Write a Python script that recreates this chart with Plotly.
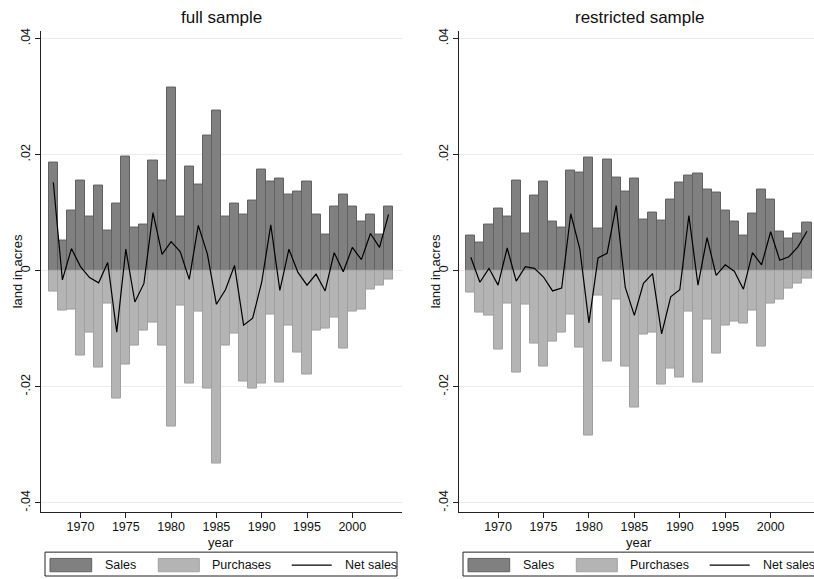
import plotly.graph_objects as go

# ---------------- data ----------------
years = list(range(1967, 2005))

full_sales = [0.0187, 0.0052, 0.0104, 0.0155, 0.0093, 0.0146, 0.0069, 0.0115, 0.0197, 0.0075,
              0.0080, 0.0189, 0.0156, 0.0316, 0.0093, 0.0180, 0.0148, 0.0232, 0.0276, 0.0093,
              0.0116, 0.0097, 0.0120, 0.0175, 0.0154, 0.0159, 0.0131, 0.0137, 0.0154, 0.0097,
              0.0063, 0.0110, 0.0131, 0.0110, 0.0085, 0.0097, 0.0063, 0.0110]
full_purchases = [-0.0036, -0.0069, -0.0067, -0.0147, -0.0106, -0.0167, -0.0056, -0.0220, -0.0161, -0.0129,
                  -0.0103, -0.0090, -0.0129, -0.0268, -0.0061, -0.0195, -0.0071, -0.0204, -0.0333, -0.0129,
                  -0.0108, -0.0191, -0.0203, -0.0194, -0.0076, -0.0193, -0.0095, -0.0141, -0.0179, -0.0103,
                  -0.0099, -0.0080, -0.0134, -0.0071, -0.0067, -0.0033, -0.0025, -0.0016]
full_net = [0.0152, -0.0016, 0.0038, 0.0007, -0.0012, -0.0021, 0.0014, -0.0106, 0.0037, -0.0054,
            -0.0022, 0.0100, 0.0028, 0.0050, 0.0033, -0.0015, 0.0078, 0.0029, -0.0058, -0.0033,
            0.0009, -0.0094, -0.0082, -0.0020, 0.0079, -0.0034, 0.0037, -0.0003, -0.0025, -0.0006,
            -0.0035, 0.0031, -0.0002, 0.0040, 0.0019, 0.0064, 0.0040, 0.0097]

restr_sales = [0.0060, 0.0049, 0.0080, 0.0107, 0.0094, 0.0155, 0.0064, 0.0129, 0.0154, 0.0084,
               0.0075, 0.0172, 0.0169, 0.0195, 0.0072, 0.0192, 0.0160, 0.0136, 0.0158, 0.0088,
               0.0100, 0.0087, 0.0123, 0.0151, 0.0164, 0.0168, 0.0140, 0.0134, 0.0104, 0.0085,
               0.0060, 0.0099, 0.0139, 0.0122, 0.0067, 0.0056, 0.0064, 0.0083]
restr_purchases = [-0.0038, -0.0072, -0.0077, -0.0136, -0.0056, -0.0176, -0.0059, -0.0126, -0.0165, -0.0122,
                   -0.0106, -0.0076, -0.0133, -0.0285, -0.0043, -0.0156, -0.0049, -0.0166, -0.0236, -0.0110,
                   -0.0106, -0.0196, -0.0169, -0.0185, -0.0070, -0.0193, -0.0085, -0.0143, -0.0095, -0.0087,
                   -0.0092, -0.0069, -0.0130, -0.0057, -0.0049, -0.0031, -0.0022, -0.0014]
restr_net = [0.0023, -0.0020, 0.0004, -0.0025, 0.0039, -0.0018, 0.0007, 0.0004, -0.0011, -0.0035,
             -0.0030, 0.0098, 0.0037, -0.0090, 0.0022, 0.0030, 0.0112, -0.0029, -0.0077, -0.0022,
             -0.0005, -0.0109, -0.0045, -0.0033, 0.0095, -0.0025, 0.0057, -0.0008, 0.0010, -0.0001,
             -0.0032, 0.0031, 0.0010, 0.0067, 0.0018, 0.0024, 0.0041, 0.0068]

panel_titles = ["full sample", "restricted sample"]
series_names = ["Sales", "Purchases", "Net sales"]
x_title = "year"
y_title = "land in acres"
ytick_vals = [-0.04, -0.02, 0, 0.02, 0.04]
ytick_text = ["-.04", "-.02", "0", ".02", ".04"]
xtick_vals = [1970, 1975, 1980, 1985, 1990, 1995, 2000]

# ---------------- style / layout ----------------
W, H = 814, 579
FONT = "Liberation Sans, Arial, Helvetica, sans-serif"
SALES_FILL, SALES_LINE = "#808080", "#606060"
PUR_FILL, PUR_LINE = "#b4b4b4", "#a0a0a0"
AXIS_COL = "#222222"
GRID_COL = "#ebebeb"
TXT = "#111111"

# panel pixel geometry
panels = [
    dict(x0=41.0, x1=401.7, xr=[1965.64, 2005.45]),
    dict(x0=459.0, x1=814.0, xr=[1965.70, 2004.77]),
]
py_top, py_bot = 27.7, 511.7
yrange = [-0.0416, 0.04137]


def px(x):
    return x / W


def py(y):
    return 1 - y / H


fig = go.Figure()

data_sets = [
    (full_sales, full_purchases, full_net),
    (restr_sales, restr_purchases, restr_net),
]

for i, (s, p, n) in enumerate(data_sets):
    xa = "x" if i == 0 else "x2"
    ya = "y" if i == 0 else "y2"
    fig.add_trace(go.Bar(x=years, y=s, width=1, name=series_names[0],
                         marker=dict(color=SALES_FILL, line=dict(color=SALES_LINE, width=1)),
                         xaxis=xa, yaxis=ya, showlegend=False))
    fig.add_trace(go.Bar(x=years, y=p, width=1, name=series_names[1],
                         marker=dict(color=PUR_FILL, line=dict(color=PUR_LINE, width=1)),
                         xaxis=xa, yaxis=ya, showlegend=False))
    fig.add_trace(go.Scatter(x=years, y=n, mode="lines", name=series_names[2],
                             line=dict(color="black", width=1.2),
                             xaxis=xa, yaxis=ya, showlegend=False))

axis_common = dict(showline=True, linecolor=AXIS_COL, linewidth=1, ticks="outside",
                   ticklen=5, tickcolor=AXIS_COL, tickwidth=1, zeroline=False,
                   tickfont=dict(family=FONT, size=12.5, color=TXT))

layout = dict(width=W, height=H, margin=dict(l=0, r=0, t=0, b=0),
              paper_bgcolor="white", plot_bgcolor="white",
              barmode="overlay", bargap=0, font=dict(family=FONT, color=TXT))

for i, pn in enumerate(panels):
    sx = "" if i == 0 else str(i + 1)
    layout["xaxis" + sx] = dict(
        domain=[px(pn["x0"]), px(pn["x1"])], range=pn["xr"], anchor="y" + sx,
        tickvals=xtick_vals, showgrid=False, ticklabelstandoff=-2, **axis_common)
    layout["yaxis" + sx] = dict(
        domain=[py(py_bot), py(py_top)], range=yrange, anchor="x" + sx,
        tickvals=ytick_vals, ticktext=ytick_text, tickangle=-90,
        showgrid=True, gridcolor=GRID_COL, gridwidth=1, **axis_common)

fig.update_layout(**layout)

annotations = []
shapes = []
for i, pn in enumerate(panels):
    full_w = 360.7
    cx = pn["x0"] + full_w / 2
    annotations.append(dict(text=panel_titles[i], x=px(cx), y=py(15), xref="paper", yref="paper",
                            showarrow=False, xanchor="center", yanchor="middle",
                            font=dict(family=FONT, size=17, color=TXT)))
    # axis titles
    annotations.append(dict(text=x_title, x=px(cx), y=py(542), xref="paper", yref="paper",
                            showarrow=False, xanchor="center", yanchor="middle", borderpad=0,
                            font=dict(family=FONT, size=13, color=TXT)))
    annotations.append(dict(text=y_title, x=px(pn["x0"] - 24), y=py((py_top + py_bot) / 2),
                            xref="paper", yref="paper", textangle=-90,
                            showarrow=False, xanchor="center", yanchor="middle",
                            font=dict(family=FONT, size=13, color=TXT)))
    # legend (drawn manually, Stata style)
    o = pn["x0"] + 4.0
    ly0, ly1, lyc = 552.0, 576.0, 565.0
    shapes.append(dict(type="rect", xref="paper", yref="paper",
                       x0=px(o), x1=px(o + 352), y0=py(ly1), y1=py(ly0),
                       line=dict(color="#222", width=1), fillcolor="white", layer="above"))
    shapes.append(dict(type="rect", xref="paper", yref="paper",
                       x0=px(o + 5), x1=px(o + 46.7), y0=py(571.7), y1=py(558.3),
                       line=dict(color=SALES_LINE, width=1), fillcolor=SALES_FILL, layer="above"))
    shapes.append(dict(type="rect", xref="paper", yref="paper",
                       x0=px(o + 113.3), x1=px(o + 154.3), y0=py(571.7), y1=py(558.3),
                       line=dict(color=PUR_LINE, width=1), fillcolor=PUR_FILL, layer="above"))
    shapes.append(dict(type="line", xref="paper", yref="paper",
                       x0=px(o + 246.7), x1=px(o + 286.7), y0=py(lyc), y1=py(lyc),
                       line=dict(color="black", width=1.2), layer="above"))
    for name, tx in zip(series_names, [o + 57.7, o + 165.0, o + 298.3]):
        annotations.append(dict(text=name, x=px(tx), y=py(lyc), xref="paper", yref="paper",
                                showarrow=False, xanchor="left", yanchor="middle",
                                font=dict(family=FONT, size=12.5, color=TXT)))

fig.update_layout(annotations=annotations, shapes=shapes)

fig.write_html("out.html", config={"displayModeBar": False},
               post_script="document.body.style.margin='0';document.body.style.overflow='hidden';")
